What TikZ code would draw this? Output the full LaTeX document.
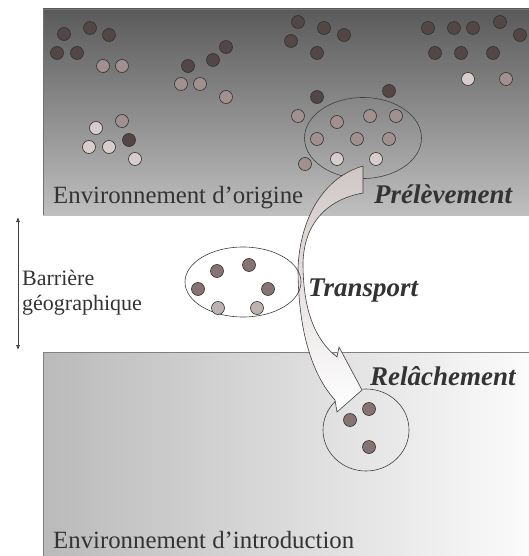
\documentclass[tikz,border=0pt]{standalone}
\usepackage{fontspec}
\setmainfont{Liberation Serif}
\usetikzlibrary{arrows.meta}

\definecolor{envtop}{HTML}{5A5A5A}
\definecolor{envbot}{HTML}{BFBFBF}
\definecolor{intleft}{HTML}{BABABA}
\definecolor{intright}{HTML}{FBFBFB}
\definecolor{dotdark}{HTML}{524646}
\definecolor{dotmed}{HTML}{A09090}
\definecolor{dotlight}{HTML}{D6CDCC}
\definecolor{dottrans}{HTML}{857473}
\definecolor{dottranslight}{HTML}{BDB3B1}
\definecolor{arrowfill}{HTML}{CFC7C5}
\definecolor{txtgray}{HTML}{333333}

\tikzset{
  dot/.style={draw=black!80, line width=0.6pt},
  envlabel/.style={anchor=base west, inner sep=0pt, text=txtgray, font=\fontsize{24.8}{28}\selectfont},
  steplabel/.style={anchor=base west, inner sep=0pt, text=txtgray, font=\fontsize{27}{30}\selectfont\bfseries\itshape},
  barlabel/.style={anchor=base west, inner sep=0pt, text=txtgray, font=\fontsize{22}{25}\selectfont},
  pool/.style={draw=black!75, line width=0.6pt},
}

\begin{document}
\begin{tikzpicture}[x=1pt,y=-1pt]
\useasboundingbox (0,0) rectangle (529,556);

% environnements
\shade[top color=envtop, bottom color=envbot] (43,9) rectangle (529,215);
\draw[black!55, line width=0.8pt] (529,9) -- (43,9) -- (43,215);
\shade[left color=intleft, right color=intright] (43,352) rectangle (529,556);
\draw[black!50, line width=0.8pt] (529,352) -- (43,352) -- (43,556);

% populations d'origine
\foreach \X/\Y in {64/34,90/28,109/35,57/53,77/53,226/47,213/60,188/66,129/140,
  298/22,324/28,291/41,344/35,317/53,428/28,454/28,473/28,500/22,520/35,
  435/53,461/53,493/53,317/97,389/91}
  \draw[dot, fill=dotdark] (\X,\Y) circle (6.5);
\foreach \X/\Y in {103/66,122/66,181/84,200/84,226/97,122/121,506/79,298/116,
  337/122,370/116,396/116,317/139,357/139,389/139,305/164}
  \draw[dot, fill=dotmed] (\X,\Y) circle (6.5);
\foreach \X/\Y in {96/128,89/147,109/147,135/159,468/79,337/159,376/159}
  \draw[dot, fill=dotlight] (\X,\Y) circle (6.5);

% echantillon preleve
\draw[pool] (363,138) ellipse (58.5 and 40.5);

% lieu de relachement
\draw[pool] (366,430) ellipse (43 and 41);
\foreach \X/\Y in {369/409,350/420,369/447}
  \draw[dot, fill=dottrans] (\X,\Y) circle (6.5);

% fleche courbe
\draw[black!75, line width=0.6pt, top color=arrowfill, middle color=white, bottom color=white]
  (363,166) .. controls (322,178) and (300,220) .. (298,268)
  .. controls (298,330) and (312,375) .. (335,400)
  -- (337,412) -- (362,390) -- (339,347) -- (337,357)
  .. controls (315,340) and (303,310) .. (303,263)
  .. controls (304,225) and (325,200) .. (363,193) -- cycle;

% individus transportes
\draw[pool] (243,282) ellipse (58 and 35);
\foreach \X/\Y in {217/271,249/265,198/289,268/289}
  \draw[dot, fill=dottrans] (\X,\Y) circle (6.5);
\foreach \X/\Y in {218/308,257/308}
  \draw[dot, fill=dottranslight] (\X,\Y) circle (6.5);

% barriere
\coordinate (bartop) at (18,217);
\coordinate (barbot) at (18,350);
\draw[black!75, line width=0.7pt, {Latex[length=5pt,width=4pt]}-{Latex[length=5pt,width=4pt]}] (bartop) -- (barbot);
\node[barlabel] (barriere) at (22,285) {Barrière};
\node[barlabel] (geo) at (22,310) {géographique};

\node[envlabel] (origine) at (53,203) {Environnement d’origine};
\node[envlabel] (intro) at (53,548) {Environnement d’introduction};
\node[steplabel] (prelev) at (374,203) {Prélèvement};
\node[steplabel] (transport) at (308,296) {Transport};
\node[steplabel] (relach) at (370,385) {Relâchement};
\end{tikzpicture}
\end{document}
